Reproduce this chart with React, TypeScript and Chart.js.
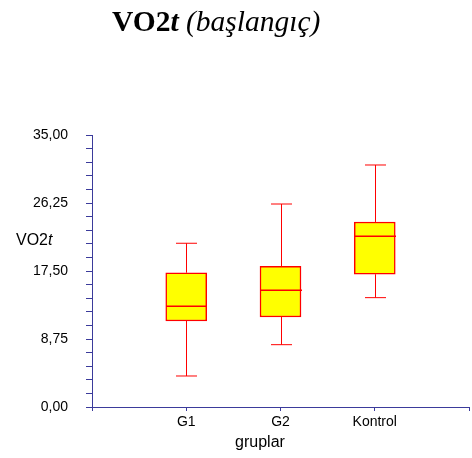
import { useEffect, useRef } from 'react';
import { Chart, registerables } from 'chart.js';

Chart.register(...registerables);

// Group names and five-number summaries for each box
const categories = ['G1', 'G2', 'Kontrol'];
const whiskerMin = [3.99, 8.02, 14.07];
const quartile1 = [11.07, 11.58, 17.08];
const medians = [12.96, 15.02, 21.97];
const quartile3 = [17.28, 18.11, 23.81];
const whiskerMax = [21.07, 26.12, 31.14];

// Labelled values on the vertical axis (minor ticks every 1,75)
const yTickValues = [0, 8.75, 17.5, 26.25, 35];
const yTickLabels = ['0,00', '8,75', '17,50', '26,25', '35,00'];

const AXIS_COLOR = '#3b3b9b';
const LINE_COLOR = '#ff0000';
const FILL_COLOR = '#ffff00';
const SANS = '"Liberation Sans", Arial, sans-serif';
const SERIF = '"Liberation Serif", "Times New Roman", serif';

const boxPlotPlugin = {
  id: 'boxWhiskers',
  afterDatasetsDraw(chart: any) {
    const { ctx, scales } = chart;
    const xs = scales.x;
    const ys = scales.y;
    const meta = chart.getDatasetMeta(0);
    ctx.save();
    ctx.strokeStyle = LINE_COLOR;
    categories.forEach((_, i) => {
      const cx = Math.round(xs.getPixelForValue(i + 1)) + 0.5;
      const bar = meta.data[i];
      const half = bar ? bar.width / 2 : 20;
      const yMin = ys.getPixelForValue(whiskerMin[i]);
      const yQ1 = ys.getPixelForValue(quartile1[i]);
      const yMed = ys.getPixelForValue(medians[i]);
      const yQ3 = ys.getPixelForValue(quartile3[i]);
      const yMax = ys.getPixelForValue(whiskerMax[i]);
      const cap = 10.5;
      ctx.lineWidth = 1;
      ctx.beginPath();
      ctx.moveTo(cx, yQ3);
      ctx.lineTo(cx, yMax);
      ctx.moveTo(cx - cap, yMax);
      ctx.lineTo(cx + cap, yMax);
      ctx.moveTo(cx, yQ1);
      ctx.lineTo(cx, yMin);
      ctx.moveTo(cx - cap, yMin);
      ctx.lineTo(cx + cap, yMin);
      ctx.stroke();
      ctx.lineWidth = 1.5;
      ctx.beginPath();
      ctx.moveTo(cx - half, yMed);
      ctx.lineTo(cx + half, yMed);
      ctx.stroke();
    });
    ctx.restore();
  },
  afterDraw(chart: any) {
    const { ctx, chartArea } = chart;
    ctx.save();
    ctx.fillStyle = '#000';
    ctx.textAlign = 'left';
    ctx.textBaseline = 'alphabetic';

    // Chart title with mixed weights/styles
    const titleParts: [string, string][] = [
      [`bold 29.5px ${SERIF}`, 'VO2'],
      [`italic bold 29.5px ${SERIF}`, 't'],
      [`italic 29.5px ${SERIF}`, ' (başlangıç)'],
    ];
    let tx = 112;
    titleParts.forEach(([font, text]) => {
      ctx.font = font;
      ctx.fillText(text, tx, 31);
      tx += ctx.measureText(text).width;
    });

    // Vertical axis name, written horizontally
    let ax = 16;
    ctx.font = `16px ${SANS}`;
    ctx.fillText('VO2', ax, 245);
    ax += ctx.measureText('VO2').width;
    ctx.font = `italic 16px ${SANS}`;
    ctx.fillText('t', ax, 245);

    // Horizontal axis name
    ctx.font = `16px ${SANS}`;
    ctx.textAlign = 'center';
    ctx.textBaseline = 'middle';
    ctx.fillText('gruplar', chartArea.left + 168, 443);
    ctx.restore();
  },
};

export default function App() {
  const canvasRef = useRef<HTMLCanvasElement>(null);

  useEffect(() => {
    const canvas = canvasRef.current;
    if (!canvas) return;
    const chart = new Chart(canvas, {
      type: 'bar',
      data: {
        datasets: [
          {
            data: categories.map((_, i) => ({ x: i + 1, y: [quartile1[i], quartile3[i]] })) as any,
            backgroundColor: FILL_COLOR,
            borderColor: LINE_COLOR,
            borderWidth: 1.5,
            borderSkipped: false,
            barThickness: 41,
            grouped: false,
          },
        ],
      },
      options: {
        responsive: false,
        animation: false,
        devicePixelRatio: 1,
        layout: { padding: { top: 135, left: 0, right: 0, bottom: 0 } },
        plugins: {
          legend: { display: false },
          tooltip: { enabled: false },
          title: { display: false },
        },
        scales: {
          x: {
            type: 'linear',
            min: 0,
            max: 4,
            offset: false,
            afterFit: (s: any) => {
              s.height = 51;
            },
            grid: {
              offset: false,
              drawOnChartArea: false,
              drawTicks: true,
              tickLength: 4,
              color: AXIS_COLOR,
            },
            border: { color: AXIS_COLOR, width: 1 },
            ticks: {
              stepSize: 1,
              autoSkip: false,
              maxRotation: 0,
              padding: 3,
              color: '#000',
              font: { family: SANS, size: 14 },
              callback: (v: any) => categories[Number(v) - 1] ?? '',
            },
          },
          y: {
            type: 'linear',
            min: 0,
            max: 35,
            afterFit: (s: any) => {
              s.width = 92;
            },
            grid: {
              drawOnChartArea: false,
              drawTicks: true,
              tickLength: 6,
              color: AXIS_COLOR,
            },
            border: { color: AXIS_COLOR, width: 1 },
            ticks: {
              stepSize: 1.75,
              autoSkip: false,
              padding: 18,
              color: '#000',
              font: { family: SANS, size: 14 },
              callback: (v: any) => {
                const idx = yTickValues.findIndex((t) => Math.abs(t - Number(v)) < 1e-6);
                return idx >= 0 ? yTickLabels[idx] : '';
              },
            },
          },
        },
      } as any,
      plugins: [boxPlotPlugin],
    });
    return () => chart.destroy();
  }, []);

  return (
    <div style={{ position: 'absolute', left: 0, top: 0, width: 472, height: 458, background: '#fff' }}>
      <canvas ref={canvasRef} width={472} height={458} style={{ display: 'block' }} />
    </div>
  );
}
